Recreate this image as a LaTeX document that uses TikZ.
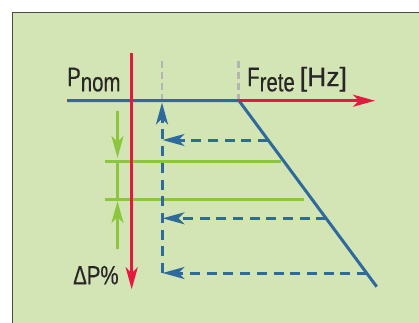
\documentclass[tikz,border=0pt]{standalone}
\usepackage{fontspec}
\setmainfont[FakeStretch=0.77,FakeBold=0.4]{Liberation Sans}
\newfontfamily\widefont[FakeBold=0.4]{Liberation Sans}
\usetikzlibrary{arrows.meta}
\definecolor{bgc}{HTML}{D3E5B5}
\definecolor{framec}{HTML}{4A4A4A}
\definecolor{redc}{HTML}{E8173F}
\definecolor{bluec}{HTML}{2F6A9C}
\definecolor{greenc}{HTML}{8CC63F}
\definecolor{grayc}{HTML}{B4B4B4}
\definecolor{txtc}{HTML}{2A2627}
\tikzset{
  tip/.style={-{Stealth[length=22pt,width=12pt,inset=6pt]}},
  redline/.style={draw=redc,line width=3pt},
  blueline/.style={draw=bluec,line width=3pt},
  bluedash/.style={draw=bluec,line width=3pt,dash pattern=on 10pt off 6.7pt},
  greenline/.style={draw=greenc,line width=3pt},
  graydash/.style={draw=grayc,line width=2.5pt,dash pattern=on 7pt off 4pt},
  lbl/.style={inner sep=0pt,text=txtc,font=\fontsize{26.5}{30}\selectfont},
}
\newcommand{\lowsub}[1]{\raisebox{-5.3pt}{#1}}
\begin{document}
\begin{tikzpicture}[x=1pt,y=-1pt]
\useasboundingbox (0,0) rectangle (419,322);
\clip (0,0) rectangle (419,322);
\fill[white] (0,0) rectangle (419,322);
\filldraw[fill=bgc,draw=framec,line width=1.3pt] (12.5,12.5) rectangle (440,340);

% coordinates
\coordinate (pl) at (67,100.7);
\coordinate (knee) at (239,100.7);
\coordinate (fend) at (375,100.7);
\coordinate (vtop) at (131.7,53);
\coordinate (vbot) at (131.7,289.3);
\coordinate (dend) at (376.7,286.7);
\coordinate (gA1) at (162,61);
\coordinate (gA2) at (162,99);
\coordinate (gB1) at (238.7,61);
\coordinate (gB2) at (238.7,99);
\coordinate (bvb) at (162,273);
\coordinate (bvt) at (162,102.5);
\coordinate (h1s) at (268,140);
\coordinate (h1e) at (162.5,140);
\coordinate (h2s) at (326.4,218.3);
\coordinate (h2e) at (162.5,218.3);
\coordinate (h3s) at (367,273);
\coordinate (h3e) at (162.5,273);
\coordinate (l1s) at (105,161.7);
\coordinate (l1e) at (281,161.7);
\coordinate (l2s) at (105,199.3);
\coordinate (l2e) at (304,199.3);
\coordinate (gv1) at (117.5,161.7);
\coordinate (gv2) at (117.5,199.3);
\coordinate (ga1s) at (117.5,110.7);
\coordinate (ga1e) at (117.5,158);
\coordinate (ga2s) at (117.5,249.3);
\coordinate (ga2e) at (117.5,201);

% gray dashed markers
\draw[graydash] (gA1) -- (gA2);
\draw[graydash] (gB1) -- (gB2);

% green
\draw[greenline] (l1s) -- (l1e);
\draw[greenline] (l2s) -- (l2e);
\draw[greenline] (gv1) -- (gv2);
\draw[greenline,tip] (ga1s) -- (ga1e);
\draw[greenline,tip] (ga2s) -- (ga2e);

% blue dashed
\draw[bluedash,tip] (bvb) -- (bvt);
\draw[bluedash,tip] (h1s) -- (h1e);
\draw[bluedash,tip] (h2s) -- (h2e);
\draw[bluedash,tip] (h3s) -- (h3e);

% blue curve
\draw[blueline] (pl) -- (knee) -- (dend);

% red axes
\draw[redline,tip] (knee) -- (fend);
\draw[redline,tip] (vtop) -- (vbot);

% labels
\node[lbl,anchor=base west] (pnom) at (67,86) {P\lowsub{nom}};
\node[lbl,anchor=base west] (frete) at (247,86) {F\lowsub{rete}\hspace{5pt}{\widefont[Hz]}};
\node[lbl,anchor=base west] (dp) at (73,284.3) {ΔP\%};
\end{tikzpicture}
\end{document}
